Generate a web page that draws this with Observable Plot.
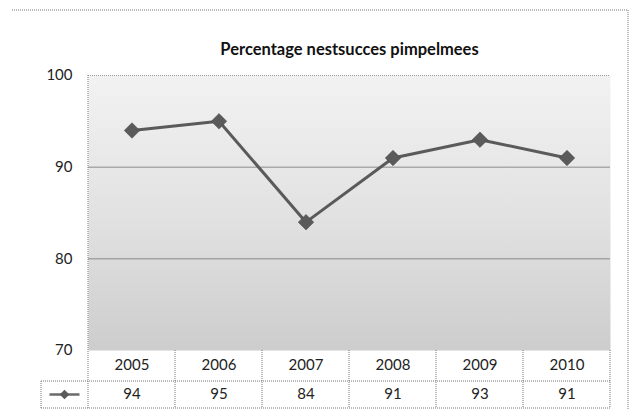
<!DOCTYPE html>
<html>
<head>
<meta charset="utf-8">
<script src="https://cdn.jsdelivr.net/npm/d3@7"></script>
<script src="https://cdn.jsdelivr.net/npm/@observablehq/plot@0.6"></script>
<style>
  html, body { margin: 0; padding: 0; background: #fff; }
  #chart svg { display: block; }
</style>
</head>
<body>
<div id="chart"></div>
<script>
const title = "Percentage nestsucces pimpelmees";
const years = ["2005", "2006", "2007", "2008", "2009", "2010"];
const values = [94, 95, 84, 91, 93, 91];
const yTicks = [70, 80, 90, 100];
const solidGrid = [80, 90];
const dottedGrid = [100];

const rows = years.map((year, i) => ({year, value: values[i]}));
const font = "Lato, 'Open Sans', sans-serif";

const plot = Plot.plot({
  width: 638,
  height: 410,
  marginLeft: 88,
  marginRight: 28,
  marginTop: 75,
  marginBottom: 60,
  style: {fontFamily: font, background: "#fff", color: "#222"},
  x: {type: "band", domain: years, padding: 0, axis: null, label: null},
  y: {domain: [70, 100], axis: null, label: null},
  marks: [
    Plot.frame({fill: "url(#bgGrad)", stroke: null}),
    Plot.ruleY(solidGrid, {stroke: "#8a8a8a", strokeWidth: 1}),
    Plot.ruleY(dottedGrid, {stroke: "#999", strokeDasharray: "1,1"}),
    Plot.axisY({ticks: yTicks, tickSize: 0, tickPadding: 16, fontSize: 15, fill: "#222", label: null}),
    Plot.line(rows, {x: "year", y: "value", stroke: "#5a5a5a", strokeWidth: 3}),
    Plot.dot(rows, {x: "year", y: "value", symbol: "diamond2", r: 7, fill: "#5a5a5a", stroke: "#444", strokeWidth: 0.5}),
    Plot.axisX({tickSize: 0, tickPadding: 9, fontSize: 15, fill: "#222", label: null}),
    Plot.axisX({tickSize: 0, tickPadding: 38, fontSize: 15, fill: "#222", label: null,
      tickFormat: d => values[years.indexOf(d)]}),
    Plot.text([title], {frameAnchor: "top", dy: -32, fontSize: 16.5, fontWeight: "bold", fill: "#111"})
  ]
});

document.getElementById("chart").appendChild(plot);

// gradient background & table lines using Plot's own scales
(function () {
  const svg = d3.select(plot);
  const defs = svg.insert("defs", ":first-child");
  const g = defs.append("linearGradient").attr("id", "bgGrad")
    .attr("x1", 0).attr("y1", 0).attr("x2", 0).attr("y2", 1);
  g.append("stop").attr("offset", "0%").attr("stop-color", "#f2f2f2");
  g.append("stop").attr("offset", "50%").attr("stop-color", "#e2e2e2");
  g.append("stop").attr("offset", "100%").attr("stop-color", "#cdcdcd");

  const xs = plot.scale("x");
  const ys = plot.scale("y");
  const xLeft = xs.apply(years[0]);
  const xRight = xs.apply(years[years.length - 1]) + xs.bandwidth;
  const yTop = ys.apply(100);
  const yBottom = ys.apply(70);
  const row1 = yBottom + 31;
  const row2 = yBottom + 58;
  const legendLeft = 41;
  const lines = svg.append("g").attr("stroke", "#777").attr("stroke-dasharray", "1,1").attr("fill", "none");
  lines.append("line").attr("x1", xLeft).attr("x2", xLeft).attr("y1", yTop).attr("y2", row2);
  years.forEach((y) => {
    const x = xs.apply(y) + xs.bandwidth;
    lines.append("line").attr("x1", x).attr("x2", x).attr("y1", yBottom).attr("y2", row2);
  });
  lines.append("line").attr("x1", legendLeft).attr("x2", xRight).attr("y1", row1).attr("y2", row1);
  lines.append("line").attr("x1", legendLeft).attr("x2", xRight).attr("y1", row2).attr("y2", row2);
  lines.append("line").attr("x1", legendLeft).attr("x2", legendLeft).attr("y1", row1).attr("y2", row2);
  lines.append("line").attr("x1", 12).attr("x2", 628).attr("y1", 10).attr("y2", 10);
  lines.append("line").attr("x1", 628).attr("x2", 628).attr("y1", 10).attr("y2", 410);
  const ly = (row1 + row2) / 2;
  const lx = (legendLeft + xLeft) / 2;
  const key = svg.append("g");
  key.append("line").attr("x1", lx - 15).attr("x2", lx + 15).attr("y1", ly).attr("y2", ly)
    .attr("stroke", "#6a6a6a").attr("stroke-width", 2.5);
  key.append("path").attr("d", d3.symbol(d3.symbolDiamond2, 60)()).attr("transform", `translate(${lx},${ly})`)
    .attr("fill", "#5a5a5a");
})();
</script>
</body>
</html>
